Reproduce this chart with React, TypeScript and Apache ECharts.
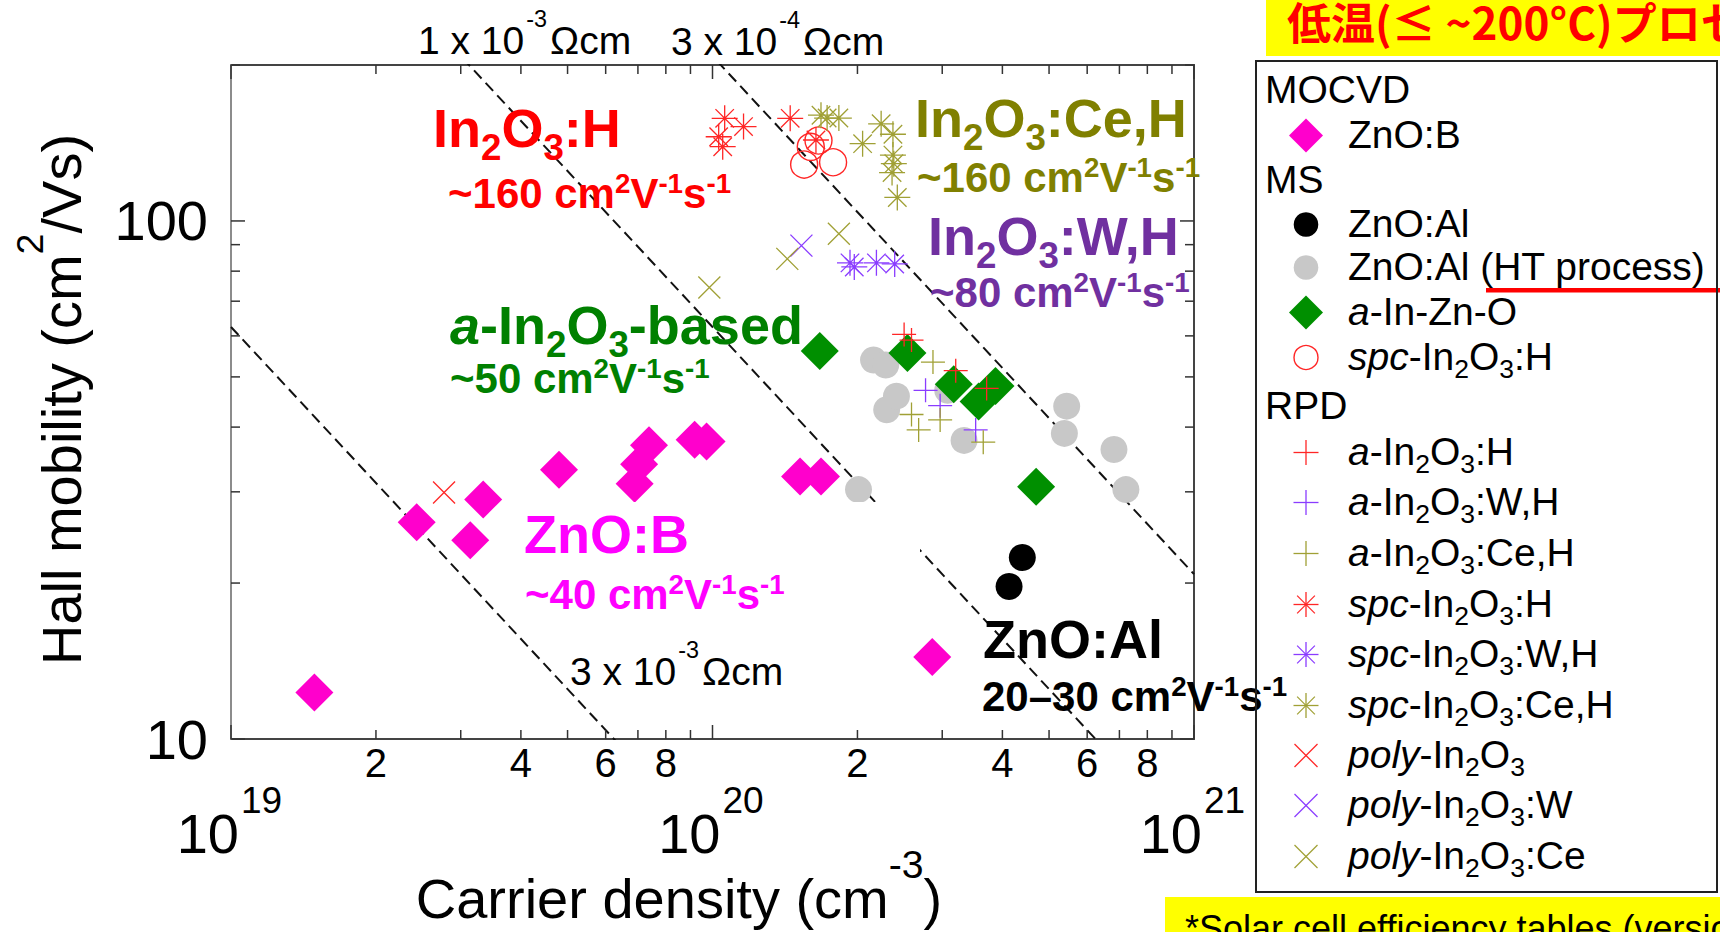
import React, { useEffect, useRef } from 'react';
import * as echarts from 'echarts';

const SANS = '"Liberation Sans", Arial, Helvetica, sans-serif';
const CJK = '"Noto Sans CJK JP", "Noto Sans CJK SC", sans-serif';

// Axis ranges (log-log)
const X_MIN = 1e19;
const X_MAX = 1e21;
const Y_MIN = 10;
const Y_MAX = 200;

// Ticks and tick labels
const xTicks = [1e19, 2e19, 3e19, 4e19, 5e19, 6e19, 7e19, 8e19, 9e19, 1e20, 2e20, 3e20, 4e20, 5e20, 6e20, 7e20, 8e20, 9e20, 1e21];
const xMinorLabels = ['2', '4', '6', '8'];
const yTicks = [10, 20, 30, 40, 50, 60, 70, 80, 90, 100, 200];
const yLabels = ['10', '100'];

// Iso-resistivity guide lines (ohm cm)
const isoResistivity = [1e-2, 1e-3, 3e-4];
const ELEMENTARY_CHARGE = 1.602e-19;

// [carrier density (cm^-3), Hall mobility (cm^2/Vs)]
const mocvdZnOB = [[1.49e19, 12.3], [2.43e19, 26.2], [3.14e19, 24.2], [3.34e19, 29.0], [4.80e19, 33.1], [6.89e19, 31.1], [7.04e19, 33.9], [7.38e19, 36.9], [9.18e19, 37.8], [9.72e19, 37.5], [1.52e20, 32.1], [1.68e20, 32.1], [2.86e20, 14.4]];
const msZnOAl = [[4.13e20, 19.7], [4.40e20, 22.4]];
const msZnOAlHT = [[2.01e20, 30.3], [2.16e20, 53.9], [2.29e20, 52.7], [2.30e20, 43.2], [2.41e20, 45.9], [3.08e20, 47.1], [3.33e20, 37.7], [5.38e20, 38.9], [5.44e20, 43.9], [6.82e20, 36.2], [7.22e20, 30.3]];
const msAIZO = [[1.67e20, 56.1], [2.54e20, 55.6], [3.17e20, 48.4], [3.57e20, 44.8], [3.87e20, 48.0], [4.70e20, 30.7]];
const msSpcH = [[1.55e20, 128.5], [1.60e20, 139], [1.66e20, 143], [1.78e20, 129.8]];
const rpdAH = [[2.50e20, 60.4], [2.59e20, 58.9], [3.20e20, 51.4], [3.71e20, 47.5]];
const rpdAWH = [[2.77e20, 47.1], [2.97e20, 44.0], [3.52e20, 39.5]];
const rpdACeH = [[2.59e20, 42.3], [2.68e20, 39.5], [2.87e20, 53.4], [2.97e20, 41.3], [3.65e20, 37.4]];
const rpdSpcH = [[1.03e20, 145.4], [1.05e20, 139.1], [1.06e20, 157.8], [1.16e20, 152.1], [1.45e20, 157.8], [1.64e20, 143.3]];
const rpdSpcWH = [[1.93e20, 83.0], [1.97e20, 81.5], [2.19e20, 83.0], [2.39e20, 82.6]];
const rpdSpcCeH = [[1.68e20, 160], [1.73e20, 158], [1.83e20, 158], [2.05e20, 141], [2.24e20, 154], [2.37e20, 147], [2.37e20, 134], [2.38e20, 129], [2.36e20, 124], [2.42e20, 111]];
const rpdPoly = [[2.77e19, 29.9]];
const rpdPolyW = [[1.53e20, 89.6]];
const rpdPolyCe = [[9.85e19, 74.4], [1.43e20, 84.5], [1.83e20, 94.5]];

const PINK = '#ff00cc';
const GREEN = '#008f00';
const GRAY = '#c8c8c8';
const RED = '#ff2626';
const VIOLET = '#8a3cff';
const OLIVE = '#a0a035';

type Kind = 'diamond' | 'dot' | 'ring' | 'plus' | 'star' | 'cross';

const groups: { data: number[][]; kind: Kind; color: string; label: string; head?: string }[] = [
  { data: mocvdZnOB, kind: 'diamond', color: PINK, label: '{n|ZnO:B}', head: 'MOCVD' },
  { data: msZnOAl, kind: 'dot', color: '#000000', label: '{n|ZnO:Al}', head: 'MS' },
  { data: msZnOAlHT, kind: 'dot', color: GRAY, label: '{n|ZnO:Al (HT process)}' },
  { data: msAIZO, kind: 'diamond', color: GREEN, label: '{i|a}{n|-In-Zn-O}' },
  { data: msSpcH, kind: 'ring', color: RED, label: '{i|spc}{n|-In}{s|2}{n|O}{s|3}{n|:H}' },
  { data: rpdAH, kind: 'plus', color: RED, label: '{i|a}{n|-In}{s|2}{n|O}{s|3}{n|:H}', head: 'RPD' },
  { data: rpdAWH, kind: 'plus', color: VIOLET, label: '{i|a}{n|-In}{s|2}{n|O}{s|3}{n|:W,H}' },
  { data: rpdACeH, kind: 'plus', color: OLIVE, label: '{i|a}{n|-In}{s|2}{n|O}{s|3}{n|:Ce,H}' },
  { data: rpdSpcH, kind: 'star', color: RED, label: '{i|spc}{n|-In}{s|2}{n|O}{s|3}{n|:H}' },
  { data: rpdSpcWH, kind: 'star', color: VIOLET, label: '{i|spc}{n|-In}{s|2}{n|O}{s|3}{n|:W,H}' },
  { data: rpdSpcCeH, kind: 'star', color: OLIVE, label: '{i|spc}{n|-In}{s|2}{n|O}{s|3}{n|:Ce,H}' },
  { data: rpdPoly, kind: 'cross', color: RED, label: '{i|poly}{n|-In}{s|2}{n|O}{s|3}' },
  { data: rpdPolyW, kind: 'cross', color: VIOLET, label: '{i|poly}{n|-In}{s|2}{n|O}{s|3}{n|:W}' },
  { data: rpdPolyCe, kind: 'cross', color: OLIVE, label: '{i|poly}{n|-In}{s|2}{n|O}{s|3}{n|:Ce}' },
];

const PLUS_PATH = 'path://M0,-1L0,1M-1,0L1,0';
const CROSS_PATH = 'path://M-1,-1L1,1M-1,1L1,-1';
const STAR_PATH = 'path://M0,-1L0,1M-1,0L1,0M-0.71,-0.71L0.71,0.71M-0.71,0.71L0.71,-0.71';

const symbolOf: Record<Kind, string> = { diamond: 'diamond', dot: 'circle', ring: 'circle', plus: PLUS_PATH, star: STAR_PATH, cross: CROSS_PATH };
const plotSize: Record<Kind, number> = { diamond: 38, dot: 27, ring: 27, plus: 24, star: 26, cross: 22 };

// ---- rich text with sub/superscripts ----
interface TextSpec { size: number; color: string; weight?: string; sub?: number; drop?: number; sup?: number; raise?: number; supPad?: number[]; }

function richFor(t: TextSpec) {
  const F = t.size;
  const fs = F * (t.sub ?? 0.68);
  const fu = F * (t.sup ?? 0.64);
  const d = t.drop ?? 0.22;
  const k = t.raise ?? 0.05;
  let hu = 2 * (0.1305 * F - k * F + 0.3695 * fu);
  let H = F;
  if (hu <= 0) {
    hu = 2 * (0.8695 * F + k * F - 0.3695 * fu);
    H = Math.max(F, hu);
  }
  const hs = Math.max(1, 2 * (0.1535 * F - d * F + 0.3465 * fs));
  const base = { fontFamily: SANS, fontWeight: t.weight ?? 'normal', fill: t.color };
  const sup: any = { ...base, fontSize: fu, height: hu, lineHeight: hu, verticalAlign: 'top' };
  if (t.supPad) sup.padding = t.supPad;
  const rich = {
    n: { ...base, fontSize: F, height: F, lineHeight: F, verticalAlign: 'bottom' },
    i: { ...base, fontStyle: 'italic', fontSize: F, height: F, lineHeight: F, verticalAlign: 'bottom' },
    s: { ...base, fontSize: fs, height: hs, lineHeight: hs, verticalAlign: 'bottom' },
    u: sup,
  };
  return { rich, baseline: H - 0.1535 * F };
}

function richText(x: number, baselineY: number, text: string, t: TextSpec, align = 'left', z = 60): any {
  const { rich, baseline } = richFor(t);
  return {
    type: 'text', x, y: baselineY - baseline, z, silent: true,
    style: { text, rich, fill: t.color, font: `${t.size}px ${SANS}`, align, textAlign: align, verticalAlign: 'top', textVerticalAlign: 'top' },
  };
}

const chem = (color: string): TextSpec => ({ size: 54, color, weight: 'bold', sub: 0.68, drop: 0.24 });
const mob = (color: string): TextSpec => ({ size: 42, color, weight: 'bold', sup: 0.66, raise: 0.1 });
const RHO_SPEC: TextSpec = { size: 39, color: '#000', sup: 0.6, raise: 0.4, supPad: [0, 3, 0, 2] };
const LEGEND_SPEC: TextSpec = { size: 39, color: '#000', sub: 0.68, drop: 0.2 };
const MOB_UNIT = '{n|cm}{u|2}{n|V}{u|-1}{n|s}{u|-1}';

const annotations: { x: number; b: number; text: string; spec: TextSpec }[] = [
  { x: 433, b: 147, text: '{n|In}{s|2}{n|O}{s|3}{n|:H}', spec: chem('#ff0000') },
  { x: 448, b: 208, text: '{n|~160 }' + MOB_UNIT, spec: mob('#ff0000') },
  { x: 915, b: 137, text: '{n|In}{s|2}{n|O}{s|3}{n|:Ce,H}', spec: chem('#808000') },
  { x: 917, b: 192, text: '{n|~160 }' + MOB_UNIT, spec: mob('#808000') },
  { x: 928, b: 255, text: '{n|In}{s|2}{n|O}{s|3}{n|:W,H}', spec: chem('#7030a0') },
  { x: 930, b: 307, text: '{n|~80 }' + MOB_UNIT, spec: mob('#7030a0') },
  { x: 450, b: 344, text: '{i|a}{n|-In}{s|2}{n|O}{s|3}{n|-based}', spec: chem('#008000') },
  { x: 450, b: 393, text: '{n|~50 }' + MOB_UNIT, spec: mob('#008000') },
  { x: 524, b: 553, text: '{n|ZnO:B}', spec: chem('#ff00ff') },
  { x: 525, b: 609, text: '{n|~40 }' + MOB_UNIT, spec: mob('#ff00ff') },
  { x: 983, b: 658, text: '{n|ZnO:Al}', spec: chem('#000000') },
  { x: 982, b: 711, text: '{n|20\u201330 }' + MOB_UNIT, spec: mob('#000000') },
];

const rhoLabels: { x: number; b: number; text: string }[] = [
  { x: 418, b: 54, text: '{n|1 x 10}{u|-3}{n|\u03a9cm}' },
  { x: 671, b: 55, text: '{n|3 x 10}{u|-4}{n|\u03a9cm}' },
  { x: 570, b: 685, text: '{n|3 x 10}{u|-3}{n|\u03a9cm}' },
];

// legend layout
const LEG = { x: 1256, y: 61, w: 461, h: 831, headX: 1265, symX: 1306, textX: 1348 };
const legendBaselines = [103, 148, 193, 237, 280, 325, 370, 419, 465, 515, 566, 617, 667, 718, 768, 818, 869];

function seg(x1: number, y1: number, x2: number, y2: number, color: string, lw = 1.3): any {
  return { type: 'line', z: 62, silent: true, shape: { x1, y1, x2, y2 }, style: { stroke: color, lineWidth: lw } };
}

function legendMark(kind: Kind, color: string, cx: number, cy: number): any[] {
  const r = 12.5;
  const c = 0.71 * r;
  switch (kind) {
    case 'diamond':
      return [{ type: 'polygon', z: 62, silent: true, shape: { points: [[cx, cy - 17], [cx + 17, cy], [cx, cy + 17], [cx - 17, cy]] }, style: { fill: color } }];
    case 'dot':
      return [{ type: 'circle', z: 62, silent: true, shape: { cx, cy, r: 12.3 }, style: { fill: color } }];
    case 'ring':
      return [{ type: 'circle', z: 62, silent: true, shape: { cx, cy, r: 12 }, style: { fill: 'none', stroke: color, lineWidth: 1.4 } }];
    case 'plus':
      return [seg(cx - r, cy, cx + r, cy, color), seg(cx, cy - r, cx, cy + r, color)];
    case 'cross':
      return [seg(cx - 11.5, cy - 11.5, cx + 11.5, cy + 11.5, color), seg(cx - 11.5, cy + 11.5, cx + 11.5, cy - 11.5, color)];
    default:
      return [seg(cx - r, cy, cx + r, cy, color), seg(cx, cy - r, cx, cy + r, color), seg(cx - c, cy - c, cx + c, cy + c, color), seg(cx - c, cy + c, cx + c, cy - c, color)];
  }
}

function buildLegend(): any[] {
  const els: any[] = [];
  let row = 0;
  groups.forEach((g) => {
    if (g.head) {
      els.push(richText(LEG.headX, legendBaselines[row], `{n|${g.head}}`, LEGEND_SPEC, 'left', 61));
      row += 1;
    }
    const b = legendBaselines[row];
    els.push(...legendMark(g.kind, g.color, LEG.symX, b - 12.5));
    els.push(richText(LEG.textX, b, g.label, LEGEND_SPEC, 'left', 61));
    row += 1;
  });
  els.push({ type: 'rect', z: 70, silent: true, shape: { x: LEG.x, y: LEG.y, width: LEG.w, height: LEG.h }, style: { fill: 'none', stroke: '#222', lineWidth: 2 } });
  // underline under "(HT process)"
  els.push({ type: 'rect', z: 62, silent: true, shape: { x: 1486, y: 288, width: 240, height: 4.5 }, style: { fill: '#ff0000' } });
  return els;
}

function tickText(text: string, x: number, y: number, size: number, align: string): any {
  return { type: 'text', x, y, style: { text, fill: '#000', font: `${size}px ${SANS}`, align, textAlign: align, verticalAlign: 'middle', textVerticalAlign: 'middle' } };
}

function decade(v: number) {
  const exp = Math.floor(Math.log10(v) + 1e-9);
  const mant = Math.round(v / Math.pow(10, exp));
  return { exp, mant };
}

function renderXTick(_params: any, api: any) {
  const v = api.value(0);
  const [x, yb] = api.coord([v, Y_MIN]);
  const yt = api.coord([v, Y_MAX])[1];
  const { exp, mant } = decade(v);
  const major = mant === 1;
  const len = major ? 14 : 9;
  const st = { stroke: '#333', lineWidth: 1.5 };
  const children: any[] = [
    { type: 'line', shape: { x1: x, y1: yb, x2: x, y2: yb - len }, style: st },
    { type: 'line', shape: { x1: x, y1: yt, x2: x, y2: yt + len }, style: st },
  ];
  if (major) {
    children.push(tickText('10', x + 8, yb + 94.6, 56, 'right'));
    children.push(tickText(String(exp), x + 10, yb + 61.2, 37, 'left'));
  } else if (xMinorLabels.includes(String(mant))) {
    children.push(tickText(String(mant), x, yb + 24, 40, 'center'));
  }
  return { type: 'group', children };
}

function renderYTick(_params: any, api: any) {
  const v = api.value(1);
  const [xl, y] = api.coord([X_MIN, v]);
  const xr = api.coord([X_MAX, v])[0];
  const { mant } = decade(v);
  const major = mant === 1;
  const len = major ? 14 : 9;
  const st = { stroke: '#333', lineWidth: 1.5 };
  const children: any[] = [
    { type: 'line', shape: { x1: xl, y1: y, x2: xl + len, y2: y }, style: st },
    { type: 'line', shape: { x1: xr, y1: y, x2: xr - len, y2: y }, style: st },
  ];
  if (yLabels.includes(String(v))) children.push(tickText(String(v), xl - 23, y, 56, 'right'));
  return { type: 'group', children };
}

function buildOption(): any {
  const scatterSeries = groups.map((g) => {
    const stroked = g.kind === 'ring' || g.kind === 'plus' || g.kind === 'star' || g.kind === 'cross';
    return {
      type: 'scatter',
      data: g.data,
      symbol: symbolOf[g.kind],
      symbolSize: plotSize[g.kind],
      silent: true,
      z: 3,
      itemStyle: stroked
        ? { color: 'rgba(0,0,0,0)', borderColor: g.color, borderWidth: g.kind === 'ring' ? 1.4 : 1.3, opacity: 1 }
        : { color: g.color, opacity: 1, borderWidth: 0 },
      emphasis: { disabled: true },
    };
  });

  const guideSeries = isoResistivity.map((rho) => {
    const product = 1 / (ELEMENTARY_CHARGE * rho);
    return {
      type: 'line',
      data: [[X_MIN, product / X_MIN], [X_MAX, product / X_MAX]],
      symbol: 'none',
      silent: true,
      clip: true,
      z: 2,
      lineStyle: { color: '#111', width: 2, type: [11, 6] },
    };
  });

  const tickSeries = [
    { type: 'custom', silent: true, clip: false, z: 4, data: xTicks.map((v) => [v, Y_MIN]), renderItem: renderXTick },
    { type: 'custom', silent: true, clip: false, z: 4, data: yTicks.map((v) => [X_MIN, v]), renderItem: renderYTick },
  ];

  const graphics: any[] = [
    // text box behind the ZnO:B caption
    { type: 'rect', z: 50, silent: true, shape: { x: 515, y: 502, width: 405, height: 118 }, style: { fill: '#ffffff' } },
    ...annotations.map((a) => richText(a.x, a.b, a.text, a.spec)),
    ...rhoLabels.map((r) => richText(r.x, r.b, r.text, RHO_SPEC)),
    richText(679, 918, '{n|Carrier density (cm}{u|-3}{n|)}', { size: 56, color: '#000', sup: 0.7, raise: 0.49 }, 'center'),
    (() => {
      const spec: TextSpec = { size: 56, color: '#000', sup: 0.67, raise: 0.45 };
      const { baseline } = richFor(spec);
      const el = richText(0, 0, '{n|Hall mobility (cm}{u|2}{n|/Vs)}', spec, 'center');
      el.x = 81 - baseline;
      el.y = 399.5;
      el.rotation = Math.PI / 2;
      return el;
    })(),
    ...buildLegend(),
    { type: 'rect', z: 40, silent: true, shape: { x: 1266, y: -4, width: 470, height: 60 }, style: { fill: '#ffff00' } },
    { type: 'text', z: 41, silent: true, x: 1287, y: 21, style: { text: '低温(≤ ~200°C)プロセス', fill: '#ff0000', font: `bold 44px ${CJK}`, align: 'left', textAlign: 'left', verticalAlign: 'middle', textVerticalAlign: 'middle' } },
    { type: 'rect', z: 40, silent: true, shape: { x: 1165, y: 897, width: 570, height: 45 }, style: { fill: '#ffff00' } },
    { type: 'text', z: 41, silent: true, x: 1185, y: 928, style: { text: '*Solar cell efficiency tables (version', fill: '#000', font: `36px ${SANS}`, align: 'left', textAlign: 'left', verticalAlign: 'middle', textVerticalAlign: 'middle' } },
  ];

  return {
    animation: false,
    backgroundColor: '#ffffff',
    grid: { left: 231, top: 65, width: 963, height: 674, show: true, borderColor: '#444', borderWidth: 2, backgroundColor: 'transparent', containLabel: false },
    xAxis: {
      type: 'log', logBase: 10, min: X_MIN, max: X_MAX,
      axisLine: { show: false }, axisTick: { show: false }, axisLabel: { show: false }, splitLine: { show: false },
    },
    yAxis: {
      type: 'log', logBase: 10, min: Y_MIN, max: Y_MAX,
      axisLine: { show: true, lineStyle: { color: '#8c8c8c', width: 2 } }, axisTick: { show: false }, axisLabel: { show: false }, splitLine: { show: false },
    },
    series: [...guideSeries, ...scatterSeries, ...tickSeries],
    graphic: { elements: graphics },
  };
}

export default function App() {
  const ref = useRef<HTMLDivElement>(null);
  useEffect(() => {
    if (!ref.current) return undefined;
    const chart = echarts.init(ref.current, undefined, { renderer: 'svg', width: 1720, height: 932 });
    chart.setOption(buildOption());
    return () => chart.dispose();
  }, []);
  return <div ref={ref} style={{ position: 'fixed', left: 0, top: 0, width: 1720, height: 932, background: '#fff' }} />;
}
